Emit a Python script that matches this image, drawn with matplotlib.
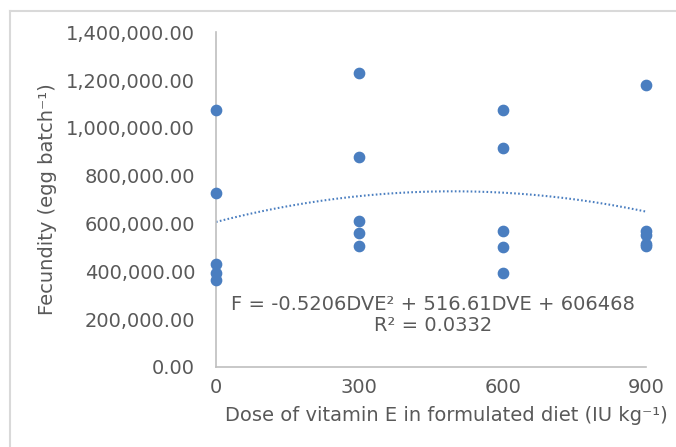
import numpy as np
import matplotlib.pyplot as plt
from matplotlib.ticker import FuncFormatter
from matplotlib.lines import Line2D

# data
dose = [0, 0, 0, 0, 0,
        300, 300, 300, 300, 300,
        600, 600, 600, 600, 600,
        900, 900, 900, 900, 900]
fecundity = [1074000, 728000, 430000, 392000, 365000,
             1230000, 880000, 610000, 562000, 505000,
             1075000, 917000, 567000, 502000, 392000,
             1180000, 568000, 553000, 515000, 505000]
trend_coef = [-0.5206, 516.61, 606468]
x_ticks = [0, 300, 600, 900]
y_ticks = [0, 200000, 400000, 600000, 800000, 1000000, 1200000, 1400000]

blue = '#4A7EC0'
grey_text = '#595959'
axis_grey = '#BFBFBF'

plt.rcParams['font.family'] = ['DejaVu Sans']

fig = plt.figure(figsize=(6.76, 4.47), dpi=100)
ax = fig.add_axes([0.3195, 0.179, 0.6361, 0.749])

ax.scatter(dose, fecundity, s=55, color=blue, zorder=3, clip_on=False)

xs = np.linspace(0, 900, 200)
ax.plot(xs, np.polyval(trend_coef, xs), linestyle=(0, (0.8, 1.1)), color=blue,
        linewidth=1.5, zorder=2)

ax.set_xlim(0, 900)
ax.set_ylim(0, 1400000)
ax.set_xticks(x_ticks)
ax.set_yticks(y_ticks)
ax.yaxis.set_major_formatter(FuncFormatter(lambda v, p: f'{v:,.2f}'))
ax.tick_params(length=0, labelsize=14, colors=grey_text)
ax.tick_params(axis='y', pad=15)
ax.tick_params(axis='x', pad=8)

for side in ['top', 'right']:
    ax.spines[side].set_visible(False)
for side in ['left', 'bottom']:
    ax.spines[side].set_color(axis_grey)
    ax.spines[side].set_linewidth(1.2)

ax.set_ylabel('Fecundity (egg batch⁻¹)', fontsize=14, color=grey_text)
ax.yaxis.set_label_coords(-0.37, 0.5)
ax.set_xlabel('Dose of vitamin E in formulated diet (IU kg⁻¹)', fontsize=14,
              color=grey_text)
ax.xaxis.set_label_coords(0.535, -0.117)

ax.text(0.505, 0.155, 'F = -0.5206DVE² + 516.61DVE + 606468\nR² = 0.0332',
        transform=ax.transAxes, ha='center', va='center', multialignment='center',
        fontsize=14, color=grey_text, linespacing=1.15)

# chart-area border (top and left edges visible in the crop)
x0, y0 = 9.5 / 676, 1 - 10.5 / 447
fig.add_artist(Line2D([x0, 1], [y0, y0], transform=fig.transFigure,
                      color='#D9D9D9', linewidth=1.5))
fig.add_artist(Line2D([x0, x0], [0, y0], transform=fig.transFigure,
                      color='#D9D9D9', linewidth=1.5))

fig.savefig('out.png', dpi=100)
